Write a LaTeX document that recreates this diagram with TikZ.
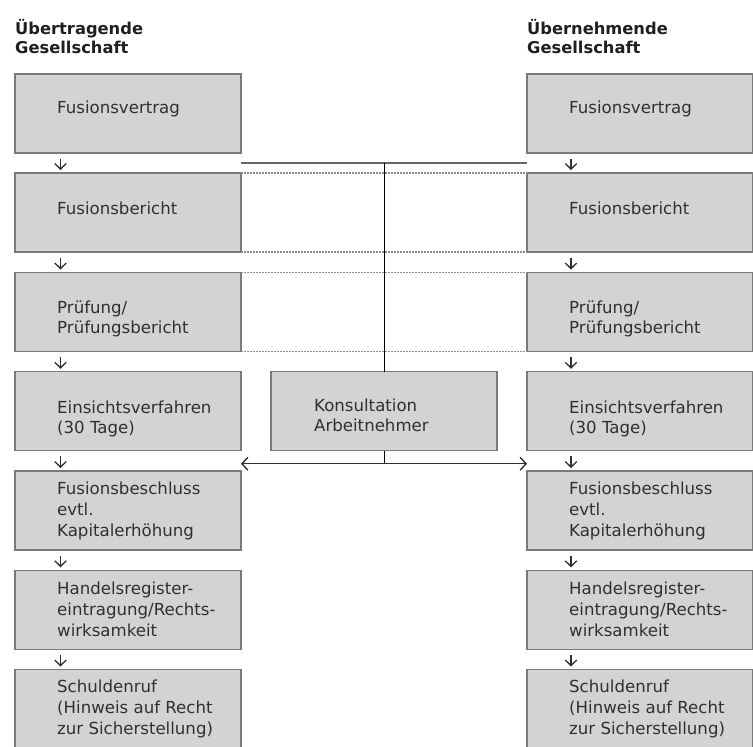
\documentclass[tikz,border=0pt]{standalone}
\usepackage{fontspec}
\setmainfont{DejaVu Sans}
\usetikzlibrary{arrows.meta,calc}
\definecolor{boxfill}{HTML}{D3D3D4}
\definecolor{boxline}{HTML}{7A7A7A}
\definecolor{txt}{HTML}{303030}
\definecolor{dotgray}{HTML}{8C8C8C}
\begin{document}
\begin{tikzpicture}[x=1pt,y=-1pt,
  stepbox/.style={draw=boxline, line width=1.3pt, fill=boxfill, minimum width=226pt, minimum height=79pt, anchor=north west, inner sep=0pt, outer sep=0pt},
  boxtext/.style={anchor=base west, align=left, inner sep=0pt, text=txt, font=\fontsize{16.6}{20.6}\selectfont},
  headtext/.style={anchor=base west, align=left, inner sep=0pt, text=black!88, font=\fontsize{16.3}{19}\selectfont\bfseries},
  downarrow/.style={draw=txt, line width=1.35pt, -{Straight Barb[length=5.5pt,width=11.5pt]}},
  dotline/.style={draw=dotgray, line width=1.5pt, dash pattern=on 1.5pt off 1.5pt},
  topline/.style={draw=black!60, line width=1.7pt},
  vline/.style={draw=black, line width=0.9pt},
  dblarrow/.style={draw=txt, line width=1.4pt, {Straight Barb[length=6pt,width=13pt]}-{Straight Barb[length=6pt,width=13pt]}}
]
\useasboundingbox (0,0) rectangle (753,747);

% headers (anchor at baseline of last line)
\node[headtext] (hL) at (15,53) {Übertragende\\Gesellschaft};
\node[headtext] (hR) at (527,53) {Übernehmende\\Gesellschaft};

% left column boxes
\node[stepbox] (L1) at (15,74) {};
\node[stepbox] (L2) at (15,173) {};
\node[stepbox] (L3) at (15,272.5) {};
\node[stepbox] (L4) at (15,371.75) {};
\node[stepbox] (L5) at (15,471) {};
\node[stepbox] (L6) at (15,570.25) {};
\node[stepbox, minimum height=82pt] (L7) at (15,669.5) {};
% right column boxes
\node[stepbox] (R1) at (527,74) {};
\node[stepbox] (R2) at (527,173) {};
\node[stepbox] (R3) at (527,272.5) {};
\node[stepbox] (R4) at (527,371.75) {};
\node[stepbox] (R5) at (527,471) {};
\node[stepbox] (R6) at (527,570.25) {};
\node[stepbox, minimum height=82pt] (R7) at (527,669.5) {};
% middle box
\node[stepbox] (K) at (271,371.75) {};

% texts (anchor at baseline of last line)
\foreach \c/\x in {L/57, R/569}{
  \node[boxtext] (\c t1) at (\x,113) {Fusionsvertrag};
  \node[boxtext] (\c t2) at (\x,214) {Fusionsbericht};
  \node[boxtext] (\c t3) at (\x,333.6) {Prüfung/\\Prüfungsbericht};
  \node[boxtext] (\c t4) at (\x,433.6) {Einsichtsverfahren\\(30 Tage)};
  \node[boxtext] (\c t5) at (\x,536) {Fusionsbeschluss\\evtl.\\Kapitalerhöhung};
  \node[boxtext] (\c t6) at (\x,636) {Handelsregister-\\eintragung/Rechts-\\wirksamkeit};
  \node[boxtext] (\c t7) at (\x,734) {Schuldenruf\\(Hinweis auf Recht\\zur Sicherstellung)};
}
\node[boxtext] (Kt) at (314,431.6) {Konsultation\\Arbeitnehmer};

% small down arrows
\foreach \a/\b in {1/2,2/3,3/4,4/5,5/6,6/7}{
  \draw[downarrow] ($(L\a.south west)+(45.5,5.5)$) -- ($(L\b.north west)+(45.5,-3)$);
  \draw[downarrow] ($(R\a.south west)+(44,5.5)$) -- ($(R\b.north west)+(44,-3)$);
}

% dotted connectors rows 2 and 3
\draw[dotline] (L2.north east) -- (R2.north west);
\draw[dotline] (L2.south east) -- (R2.south west);
\draw[dotline] (L3.north east) -- (R3.north west);
\draw[dotline] (L3.south east) -- (R3.south west);

% top line and vertical
\coordinate (tl) at ($(L1.south east)!0.5!(L2.north east)$);
\coordinate (tr) at ($(R1.south west)!0.5!(R2.north west)$);
\draw[topline] (tl) -- (tr);
\draw[vline] (K.north |- tl) -- (K.north);

% bottom double arrow
\coordinate (bl) at ([yshift=-13pt]L4.south east);
\coordinate (br) at ([yshift=-13pt]R4.south west);
\draw[vline] (K.south) -- (K.south |- bl);
\draw[dblarrow] (bl) -- (br);
\end{tikzpicture}
\end{document}
